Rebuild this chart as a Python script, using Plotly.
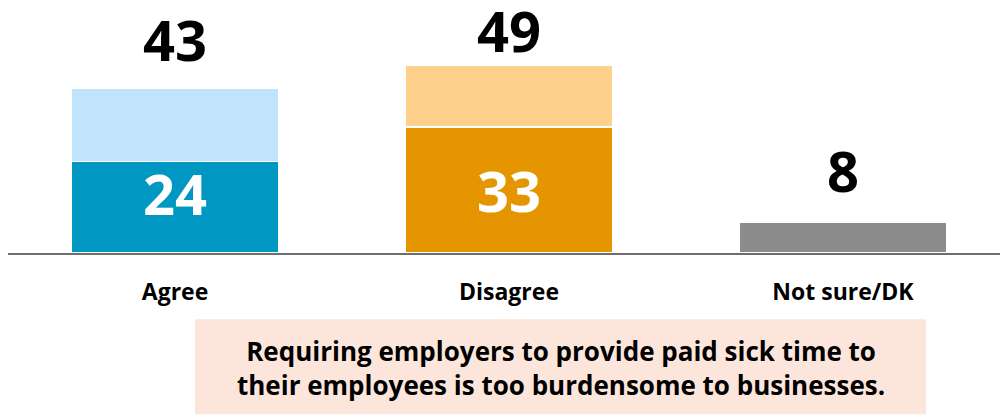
import plotly.graph_objects as go

categories = ["Agree", "Disagree", "Not sure/DK"]
strong_values = [24, 33, 8]
somewhat_values = [19, 16, 0]
totals = [43, 49, 8]
strong_colors = ["#0098c3", "#e59500", "#8c8c8c"]
somewhat_colors = ["#bfe4fb", "#fdd08c", "#8c8c8c"]
statement = "Requiring employers to provide paid sick time to<br>their employees is too burdensome to businesses."

FONT = "Open Sans"
W, H = 1000, 415
baseline_px = 253.5
scale = 3.83  # px per unit

fig = go.Figure()
fig.add_trace(go.Bar(x=categories, y=strong_values, marker=dict(color=strong_colors, line=dict(color="white", width=1.5)),
                     width=0.62, hoverinfo="skip"))
fig.add_trace(go.Bar(x=categories, y=somewhat_values, marker=dict(color=somewhat_colors, line=dict(color="white", width=1.5)),
                     width=0.62, hoverinfo="skip"))

annotations = []
shifts = [10, -4, 12]
for c, t, s in zip(categories, totals, shifts):
    annotations.append(dict(x=c, y=t, text=f"<b>{t}</b>", showarrow=False, yanchor="bottom", yshift=s,
                            font=dict(family=FONT, size=56, color="black")))
inner_shifts = [14, 0]
for c, v, s in zip(categories[:2], strong_values[:2], inner_shifts):
    annotations.append(dict(x=c, y=v / 2, text=f"<b>{v}</b>", showarrow=False, yanchor="middle", yshift=s,
                            font=dict(family=FONT, size=56, color="white")))
annotations.append(dict(x=(560.5 - 8) / (W - 8), y=(baseline_px - 369) / baseline_px, xref="paper", yref="paper",
                        yanchor="middle", xanchor="center",
                        text=f"<b>{statement}</b>", showarrow=False, align="center",
                        font=dict(family=FONT, size=26, color="black")))

plot_w = W - 8
fig.update_layout(
    width=W, height=H, barmode="stack", showlegend=False,
    margin=dict(l=8, r=0, t=0, b=H - baseline_px),
    plot_bgcolor="white", paper_bgcolor="white",
    xaxis=dict(range=[-0.5, -0.5 + plot_w / 334], showline=True, linecolor="#6e6e6e", linewidth=1.5,
               showgrid=False, zeroline=False, ticks="", ticklabelstandoff=18,
               tickfont=dict(family=FONT, size=23, color="black"), fixedrange=True),
    yaxis=dict(range=[0, baseline_px / scale], visible=False, fixedrange=True),
    annotations=annotations,
    shapes=[dict(type="rect", xref="paper", yref="paper", x0=(195 - 8) / plot_w, x1=(926 - 8) / plot_w,
                 y0=-(415 - baseline_px) / baseline_px, y1=-(320 - baseline_px) / baseline_px,
                 fillcolor="#fce6db", line=dict(width=0), layer="below")],
)
fig.update_xaxes(tickvals=categories, ticktext=[f"<b>{c}</b>" for c in categories])
fig.write_html("out.html")
